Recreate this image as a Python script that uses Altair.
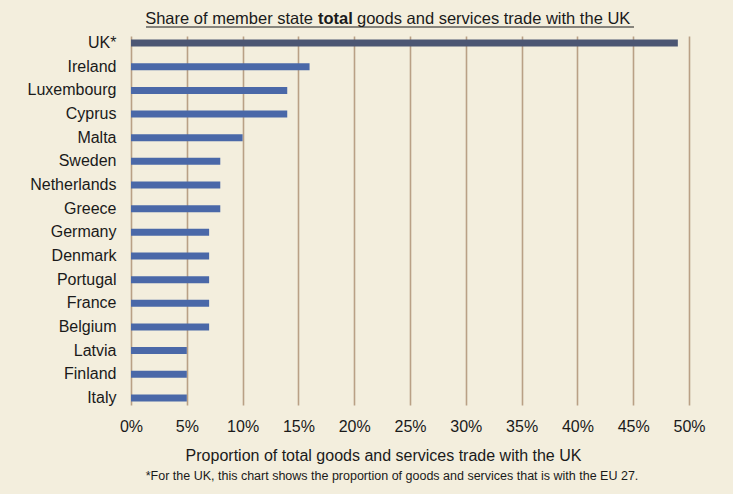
import altair as alt
import pandas as pd

countries = ["UK*", "Ireland", "Luxembourg", "Cyprus", "Malta", "Sweden",
             "Netherlands", "Greece", "Germany", "Denmark", "Portugal",
             "France", "Belgium", "Latvia", "Finland", "Italy"]
shares = [0.49, 0.16, 0.14, 0.14, 0.10, 0.08, 0.08, 0.08, 0.07, 0.07,
          0.07, 0.07, 0.07, 0.05, 0.05, 0.05]
groups = ["EU27"] + ["UK"] * 15
tick_values = [0, 0.05, 0.10, 0.15, 0.20, 0.25, 0.30, 0.35, 0.40, 0.45, 0.50]

df = pd.DataFrame({"country": countries, "share": shares, "group": groups})

FONT = "Liberation Sans"
GRID = "#b9a085"

bars = alt.Chart(df).mark_bar(size=7).encode(
    y=alt.Y("country:N", sort=countries,
            scale=alt.Scale(paddingInner=0.7, paddingOuter=0.15),
            axis=alt.Axis(title=None, domain=False, ticks=False,
                          labelFontSize=16, labelFont=FONT,
                          labelColor="#1a1a1a", labelPadding=15)),
    x=alt.X("share:Q", scale=alt.Scale(domain=[0, 0.5], nice=False),
            axis=alt.Axis(values=tick_values, format=".0%",
                          grid=True, gridColor=GRID, gridWidth=1.6,
                          domain=False, ticks=False, labelFlush=False,
                          labelFontSize=16, labelFont=FONT,
                          labelColor="#1a1a1a", labelPadding=13,
                          title="Proportion of total goods and services trade with the UK",
                          titleFont=FONT, titleFontSize=16,
                          titleFontWeight="normal", titleColor="#1a1a1a",
                          titleX=252, titleY=50, titleAlign="center",
                          titleBaseline="middle")),
    color=alt.Color("group:N",
                    scale=alt.Scale(domain=["EU27", "UK"],
                                    range=["#4c5673", "#4a68a8"]),
                    legend=None),
)

one = alt.Data(values=[{}])

t1 = alt.Chart(one).mark_text(align="right", baseline="alphabetic",
                              font=FONT, fontSize=16.5, color="#1a1a1a").encode(
    x=alt.value(182), y=alt.value(-12),
    text=alt.value("Share of member state"))
t2 = alt.Chart(one).mark_text(align="left", baseline="alphabetic",
                              font=FONT, fontSize=16.5, fontWeight="bold",
                              color="#1a1a1a").encode(
    x=alt.value(187), y=alt.value(-12), text=alt.value("total"))
t3 = alt.Chart(one).mark_text(align="left", baseline="alphabetic",
                              font=FONT, fontSize=16.5, color="#1a1a1a").encode(
    x=alt.value(226), y=alt.value(-12),
    text=alt.value("goods and services trade with the UK"))
underline = alt.Chart(one).mark_rule(color="#1a1a1a", strokeWidth=1).encode(
    x=alt.value(15), x2=alt.value(503), y=alt.value(-9))
foot = alt.Chart(one).mark_text(align="center", baseline="alphabetic",
                                font=FONT, fontSize=12.5,
                                color="#1a1a1a").encode(
    x=alt.value(261), y=alt.value(444),
    text=alt.value("*For the UK, this chart shows the proportion of goods and services that is with the EU 27."))

chart = alt.layer(bars, t1, t2, t3, underline, foot).properties(
    width=558, height=369,
    autosize=alt.AutoSizeParams(type="none"),
    padding={"left": 131, "top": 36, "right": 44, "bottom": 89},
    background="#f3eedd",
).configure_view(stroke=None)

chart.save("out.html", embed_options={"renderer": "svg", "actions": False})
